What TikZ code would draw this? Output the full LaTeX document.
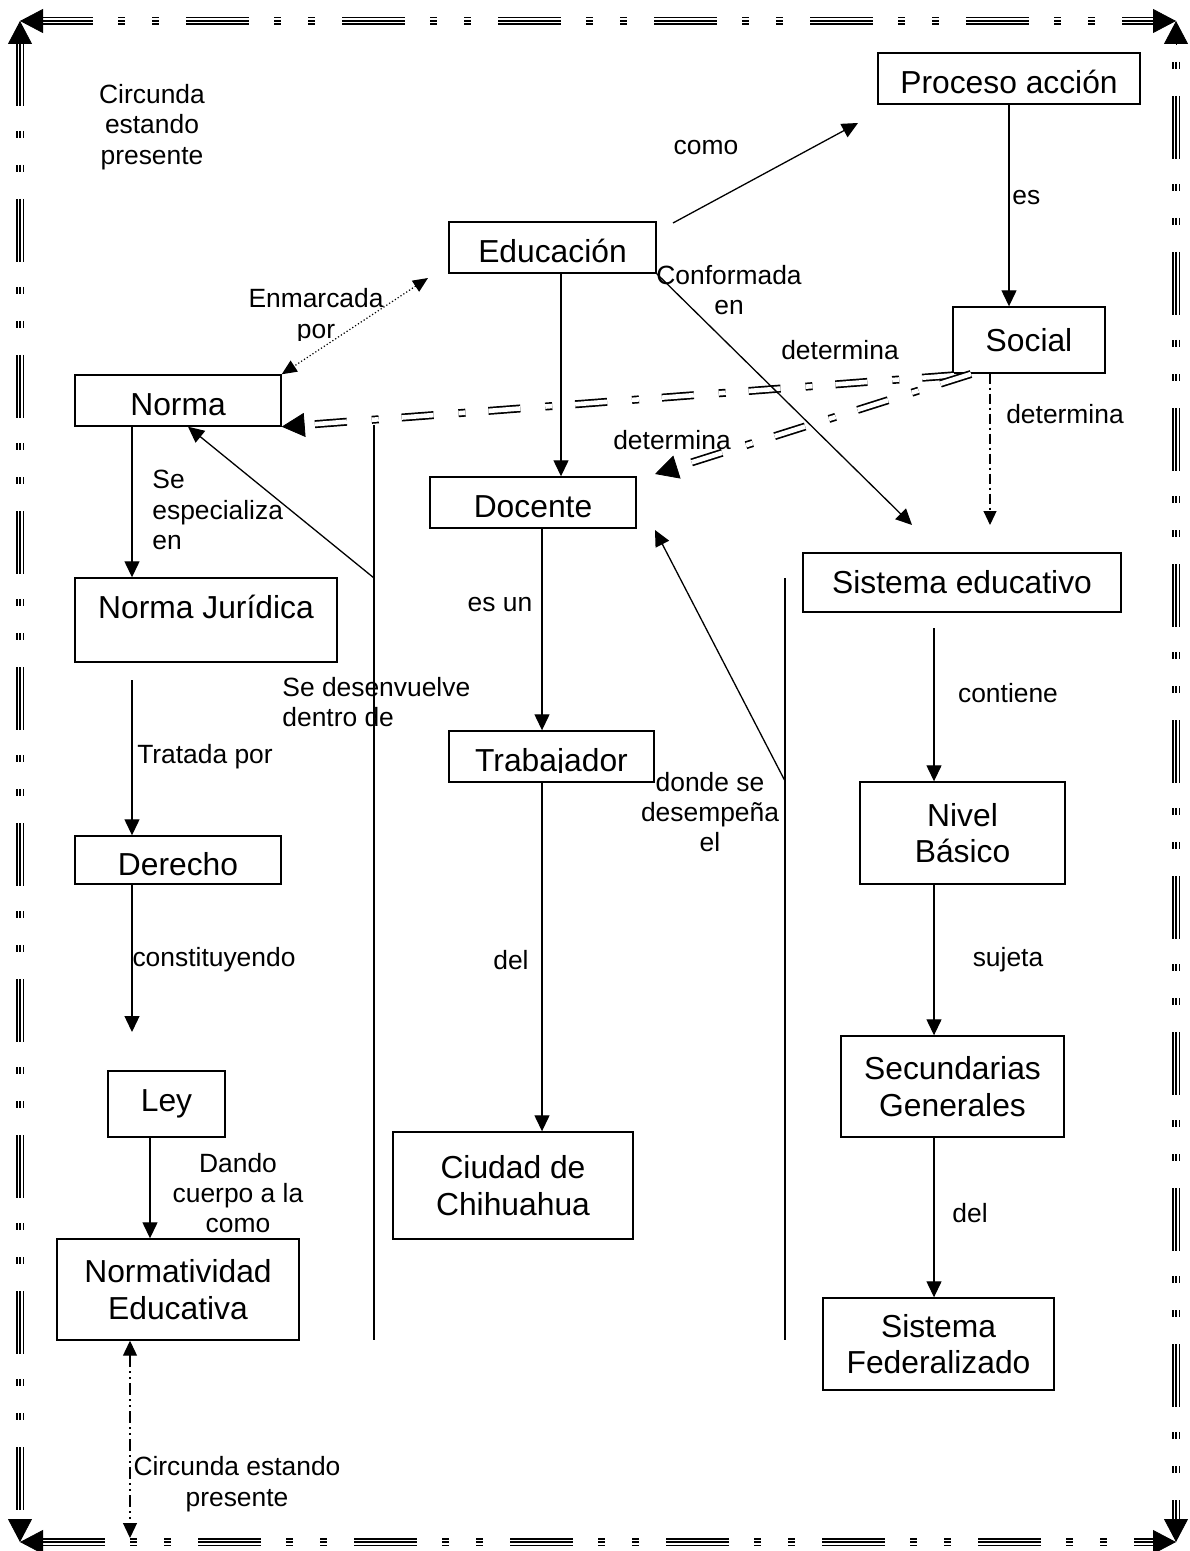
\documentclass[tikz,border=0pt]{standalone}
\usepackage{fontspec}
\setmainfont{Liberation Sans}
\usetikzlibrary{arrows.meta,calc}
\newcommand\bordline[3]{%
  \draw[bord,dash phase=#1,line width=4.2pt] (#2) -- (#3);
  \draw[bord,dash phase=#1,line width=2.5pt,white] (#2) -- (#3);
  \draw[bord,dash phase=#1,line width=0.9pt] (#2) -- (#3);}
\newcommand\bigtip[2]{\draw[btip] ($(#1)!11.5pt!(#2)$) -- (#1);}
\begin{document}
\begin{tikzpicture}[x=0.5pt,y=-0.5pt,
  box/.style={draw,line width=0.7pt,inner sep=0pt,align=center,font=\fontsize{15.9}{18.2}\selectfont},
  box1/.style={box,text height=15.4pt,text depth=0pt},
  boxtxt/.style={inner sep=0pt,align=center,font=\fontsize{15.9}{18.2}\selectfont},
  lab/.style={inner sep=0pt,align=center,font=\fontsize{13.2}{15.2}\selectfont},
  conn/.style={line width=0.65pt,-{Triangle[length=8pt,width=7.5pt]}},
  plain/.style={line width=0.65pt},
  bord/.style={dash pattern=on 31.5pt off 12.5pt on 3.5pt off 13.5pt on 3.5pt off 13.5pt,shorten <=11pt,shorten >=11pt},
  btip/.style={line width=0.4pt,-{Triangle[length=11.5pt,width=12pt]}},
  dline/.style={double,double distance=2.3pt,line width=0.85pt,dash pattern=on 16pt off 11.5pt on 3.5pt off 12.5pt,shorten >=11pt},
  dotline/.style={line width=0.6pt,dash pattern=on 0.6pt off 1.1pt,{Triangle[length=7.5pt,width=6.5pt]}-{Triangle[length=7.5pt,width=6.5pt]}},
  dashdot/.style={line width=0.6pt,dash pattern=on 5pt off 2pt on 1pt off 2pt,-{Triangle[length=7pt,width=6.5pt]}},
  dashdotdot/.style={line width=0.6pt,dash pattern=on 6pt off 2pt on 1pt off 2pt on 1pt off 2pt,{Triangle[length=7.5pt,width=7pt]}-{Triangle[length=7.5pt,width=7pt]}}
]
\useasboundingbox (0,0) rectangle (1189,1551);
% border
\coordinate (TL) at (20,21);
\coordinate (TR) at (1176,21);
\coordinate (BL) at (20,1542);
\coordinate (BR) at (1176,1542);
\bordline{6pt}{TL}{TR}
\bordline{51.5pt}{TR}{BR}
\bordline{0pt}{BL}{BR}
\bordline{0pt}{TL}{BL}
\bigtip{TL}{TR}\bigtip{TL}{BL}
\bigtip{TR}{TL}\bigtip{TR}{BR}
\bigtip{BL}{TL}\bigtip{BL}{BR}
\bigtip{BR}{TR}\bigtip{BR}{BL}

% boxes
\node[box1,minimum width=131pt,minimum height=25.5pt] (proc) at (1009,78.5) {Proceso acción};
\node[box,minimum width=76pt,minimum height=33pt] (soc) at (1029,340) {Social};
\node[box1,minimum width=103.5pt,minimum height=25.5pt] (edu) at (552.5,247.5) {Educación};
\node[box1,minimum width=103pt,minimum height=25.5pt] (norma) at (178,400.5) {Norma};
\node[box,minimum width=131pt,minimum height=42pt] (nj) at (206,620) {};
\node[boxtxt] (njt) at (206,607) {Norma Jurídica};
\node[box1,minimum width=103pt,minimum height=24pt] (der) at (178,860) {Derecho};
\node[box,minimum width=58.5pt,minimum height=33pt] (ley) at (166.5,1104) {Ley};
\node[box,minimum width=121pt,minimum height=50.5pt] (nedu) at (178,1289.5) {Normatividad\\Educativa};
\node[box1,minimum width=103pt,minimum height=25.5pt] (doc) at (533,502.5) {Docente};
\node[box,minimum width=102.5pt,minimum height=25.5pt] (trab) at (551.5,756.5) {};
\begin{scope}
\clip (449,731) rectangle (654,772);
\node[boxtxt,anchor=base] (trabt) at (551.5,771) {Trabajador};
\end{scope}
\node[box,minimum width=120pt,minimum height=53.5pt] (ciu) at (513,1185.5) {Ciudad de\\Chihuahua};
\node[box,minimum width=159pt,minimum height=29.5pt] (sised) at (962,582.5) {Sistema educativo};
\node[box,minimum width=102.5pt,minimum height=51pt] (niv) at (962.5,833) {Nivel\\Básico};
\node[box,minimum width=111.5pt,minimum height=50.5pt] (secu) at (952.5,1086.5) {Secundarias\\Generales};
\node[box,minimum width=115.5pt,minimum height=46pt] (sfed) at (938.5,1344) {Sistema\\Federalizado};

% coordinates
\coordinate (c1) at (673,223);
\coordinate (c2) at (858,123);
\coordinate (e2d) at (561,0);
\coordinate (ce) at (912,525);
\coordinate (en) at (428,278);
\coordinate (s1) at (971,374);
\coordinate (dd) at (655,474);
\coordinate (x990) at (990,0);
\coordinate (sd) at (990,525);
\coordinate (x132) at (132,0);
\coordinate (nj2) at (132,680);
\coordinate (dl) at (132,1032);
\coordinate (x150) at (150,0);
\coordinate (x130) at (130,0);
\coordinate (cb) at (130,1538);
\coordinate (b1t) at (374,425);
\coordinate (b1b) at (374,1340);
\coordinate (b1m) at (374,578);
\coordinate (x188) at (188,0);
\coordinate (b2t) at (785,578);
\coordinate (b2b) at (785,1340);
\coordinate (b2m) at (785,781);
\coordinate (dt) at (655,530);
\coordinate (x542) at (542,0);
\coordinate (x934) at (934,0);
\coordinate (se2) at (934,628);

% double dashed connectors (Social determina)
\draw[dline,dash phase=35pt] (s1) -- (norma.south east);
\bigtip{norma.south east}{s1}
\draw[dline] (s1) -- (dd);
\bigtip{dd}{s1}

% connectors
\draw[conn] (proc.south) -- (proc.south |- soc.north);
\draw[conn] (c1) -- (c2);
\draw[conn] (edu.south -| e2d) -- (doc.north -| e2d);
\draw[conn] (edu.south east) -- (ce);
\draw[dotline] (en) -- (norma.north east);
\draw[dashdot] (soc.south -| x990) -- (sd);
\draw[conn] (norma.south -| x132) -- (nj.north -| x132);
\draw[conn] (nj2) -- (der.north -| x132);
\draw[conn] (der.south -| x132) -- (dl);
\draw[conn] (ley.south -| x150) -- (nedu.north -| x150);
\draw[dashdotdot] (nedu.south -| x130) -- (cb);
\draw[plain] (b1t) -- (b1b);
\draw[conn] (b1m) -- (norma.south -| x188);
\draw[plain] (b2t) -- (b2b);
\draw[conn] (b2m) -- (dt);
\draw[conn] (doc.south -| x542) -- (trab.north -| x542);
\draw[conn] (trab.south -| x542) -- (ciu.north -| x542);
\draw[conn] (se2) -- (niv.north -| x934);
\draw[conn] (niv.south -| x934) -- (secu.north -| x934);
\draw[conn] (secu.south -| x934) -- (sfed.north -| x934);

% labels
\node[lab] (l1) at (152,127) {Circunda\\estando\\presente};
\node[lab] (l2) at (706,148) {como};
\node[lab,anchor=west] (l3) at (1012,198) {es};
\node[lab] (l4) at (729,290) {Conformada\\en};
\begin{scope}
\clip (240,280) rectangle (400,341);
\node[lab] (l5) at (316,316) {Enmarcada\\por};
\end{scope}
\node[lab] (l6) at (840,350) {determina};
\node[lab] (l7) at (672,440) {determina};
\node[lab] (l8) at (1065,414) {determina};
\node[lab,anchor=west,align=left] (l9) at (152,510) {Se\\especializa\\en};
\node[lab,anchor=west,align=left] (l10) at (282,702) {Se desenvuelve\\dentro de};
\node[lab] (l11) at (205,757) {Tratada por};
\node[lab] (l12) at (214,960) {constituyendo};
\node[lab] (l13) at (238,1193) {Dando\\cuerpo a la\\como};
\node[lab] (l14) at (237,1484) {Circunda estando\\presente};
\node[lab] (l15) at (500,605) {es un};
\node[lab] (l16) at (511,960) {del};
\node[lab] (l17) at (710,812) {donde se\\desempeña\\el};
\node[lab] (l18) at (1008,693) {contiene};
\node[lab] (l19) at (1008,960) {sujeta};
\node[lab] (l20) at (970,1213) {del};
\end{tikzpicture}
\end{document}
